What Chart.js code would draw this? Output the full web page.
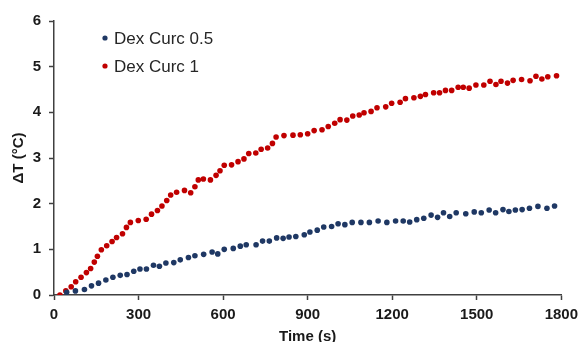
<!DOCTYPE html>
<html>
<head>
<meta charset="utf-8">
<script src="https://cdn.jsdelivr.net/npm/chart.js@4/dist/chart.umd.min.js"></script>
<style>
  html, body { margin: 0; padding: 0; background: #fff; }
  #wrap { width: 584px; height: 342px; }
</style>
</head>
<body>
<div id="wrap"><canvas id="chart" width="584" height="342"></canvas></div>
<script>
// Dex Curc 0.5 (time in s, temperature rise in °C)
var blueTimes = [45, 76, 108, 133, 158, 184, 209, 235, 259, 283, 305, 328, 353, 374, 397, 425, 448, 477, 500, 531,
  561, 581, 604, 636, 661, 682, 717, 740, 764, 790, 813, 834, 858, 888, 908, 934, 957, 985, 1008, 1032,
  1058, 1089, 1119, 1150, 1181, 1212, 1239, 1262, 1287, 1312, 1338, 1361, 1382, 1404, 1427, 1461, 1491, 1516, 1544, 1567,
  1593, 1614, 1637, 1661, 1687, 1717, 1749, 1776];
var blueDT = [0.06, 0.09, 0.12, 0.20, 0.26, 0.33, 0.39, 0.43, 0.45, 0.52, 0.57, 0.57, 0.65, 0.63, 0.70, 0.71, 0.77, 0.82, 0.86, 0.89,
  0.94, 0.90, 1.00, 1.02, 1.07, 1.10, 1.10, 1.18, 1.18, 1.25, 1.24, 1.27, 1.28, 1.32, 1.38, 1.42, 1.49, 1.50, 1.56, 1.54,
  1.59, 1.59, 1.59, 1.62, 1.59, 1.62, 1.62, 1.60, 1.65, 1.68, 1.75, 1.70, 1.80, 1.72, 1.80, 1.78, 1.82, 1.80, 1.86, 1.80,
  1.87, 1.83, 1.86, 1.87, 1.90, 1.94, 1.90, 1.95];

// Dex Curc 1
var redTimes = [21, 42, 61, 77, 96, 115, 130, 143, 154, 168, 187, 206, 222, 243, 257, 271, 299, 327, 346, 367,
  383, 400, 414, 435, 463, 485, 500, 512, 530, 555, 575, 589, 604, 630, 653, 674, 691, 716, 735, 758,
  775, 788, 816, 848, 874, 900, 923, 951, 973, 996, 1015, 1039, 1060, 1083, 1100, 1125, 1146, 1177, 1198, 1228,
  1247, 1277, 1300, 1318, 1347, 1368, 1389, 1411, 1434, 1452, 1473, 1497, 1525, 1547, 1568, 1586, 1609, 1629, 1659, 1689,
  1710, 1731, 1752, 1783];
var redDT = [0, 0.09, 0.18, 0.29, 0.39, 0.49, 0.58, 0.72, 0.85, 0.99, 1.08, 1.17, 1.26, 1.34, 1.48, 1.59, 1.63, 1.66, 1.77, 1.85,
  1.95, 2.07, 2.19, 2.25, 2.29, 2.24, 2.37, 2.52, 2.54, 2.52, 2.62, 2.72, 2.84, 2.85, 2.92, 2.98, 3.10, 3.11, 3.19, 3.22,
  3.32, 3.46, 3.49, 3.50, 3.51, 3.53, 3.60, 3.62, 3.69, 3.76, 3.84, 3.83, 3.92, 3.94, 3.99, 4.02, 4.10, 4.12, 4.20, 4.22,
  4.30, 4.32, 4.35, 4.39, 4.43, 4.43, 4.48, 4.48, 4.55, 4.55, 4.53, 4.60, 4.60, 4.68, 4.61, 4.68, 4.64, 4.70, 4.72, 4.69,
  4.79, 4.73, 4.78, 4.80];

var seriesNames = ['Dex Curc 0.5', 'Dex Curc 1'];
var seriesColors = ['#1f3864', '#c00000'];

function pairs(xs, ys) {
    var out = [];
    for (var i = 0; i < xs.length; i++) out.push({ x: xs[i], y: ys[i] });
    return out;
}

// legend drawn inside the plot, top-left
var insideLegend = {
    id: 'insideLegend',
    afterDraw: function(chart) {
        var ctx = chart.ctx;
        var rows = [38, 66];
        ctx.save();
        ctx.font = '17px "Liberation Sans", Arial, sans-serif';
        ctx.textBaseline = 'middle';
        ctx.textAlign = 'left';
        chart.data.datasets.forEach(function(ds, i) {
            ctx.fillStyle = ds.backgroundColor;
            ctx.beginPath();
            ctx.arc(105, rows[i], 2.6, 0, Math.PI * 2);
            ctx.fill();
            ctx.fillStyle = '#262626';
            ctx.fillText(ds.label, 114, rows[i] + 1);
        });
        ctx.restore();
    }
};

var tickFont = { family: '"Liberation Sans", Arial, sans-serif', size: 15, weight: 'bold' };

new Chart(document.getElementById('chart'), {
    type: 'scatter',
    data: {
        datasets: [
            { label: seriesNames[0], data: pairs(blueTimes, blueDT), backgroundColor: seriesColors[0], borderWidth: 0, pointRadius: 2.8 },
            { label: seriesNames[1], data: pairs(redTimes, redDT), backgroundColor: seriesColors[1], borderWidth: 0, pointRadius: 2.8 }
        ]
    },
    options: {
        responsive: false,
        animation: false,
        devicePixelRatio: 1,
        layout: { padding: { top: 21, right: 17, left: 0, bottom: 0 } },
        plugins: {
            legend: { display: false },
            tooltip: { enabled: false }
        },
        scales: {
            x: {
                type: 'linear',
                min: 0, max: 1800,
                ticks: {
                    stepSize: 300, color: '#1a1a1a', font: tickFont, padding: 6, maxRotation: 0,
                    callback: function(v) { return String(v); }
                },
                grid: { drawOnChartArea: false, drawTicks: true, tickLength: 5, tickColor: '#404040', tickWidth: 1.5 },
                border: { color: '#404040', width: 1.5 },
                title: { display: true, text: 'Time (s)', color: '#1a1a1a', font: tickFont, padding: { top: 0, bottom: -4 } },
                afterFit: function(s) { s.height = 47; }
            },
            y: {
                min: 0, max: 6,
                ticks: { stepSize: 1, color: '#1a1a1a', font: tickFont, padding: 8 },
                grid: { drawOnChartArea: false, drawTicks: true, tickLength: 5, tickColor: '#404040', tickWidth: 1.5 },
                border: { color: '#404040', width: 1.5 },
                title: { display: true, text: 'ΔT (°C)', color: '#1a1a1a', font: tickFont, padding: { top: 10, bottom: 0 } },
                afterFit: function(s) { s.width = 54; }
            }
        }
    },
    plugins: [insideLegend]
});
</script>
</body>
</html>
